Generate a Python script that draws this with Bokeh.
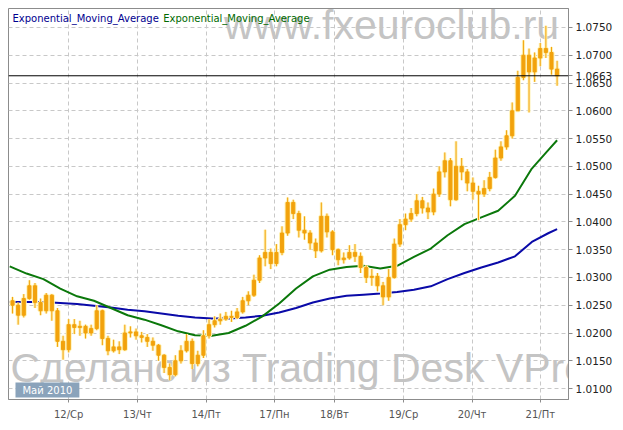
from bokeh.plotting import figure
from bokeh.models import FixedTicker, NumeralTickFormatter, Span, Label
from bokeh.embed import file_html
from bokeh.resources import INLINE

# ---- data (trading hours since 11 May 2010 00:00, EUR price) ----
hours = list(range(4, 200, 2))
open0 = 1.0258
closes = [1.0250, 1.0232, 1.0262, 1.0285, 1.0255, 1.0240, 1.0268, 1.0240, 1.0185, 1.0170,
          1.0215, 1.0210, 1.0212, 1.0200, 1.0208, 1.0240, 1.0190, 1.0168, 1.0175, 1.0170,
          1.0200, 1.0202, 1.0195, 1.0192, 1.0185, 1.0178, 1.0160, 1.0138, 1.0125, 1.0150,
          1.0168, 1.0185, 1.0145, 1.0160, 1.0195, 1.0215, 1.0222, 1.0225, 1.0230, 1.0228,
          1.0238, 1.0258, 1.0268, 1.0295, 1.0335, 1.0345, 1.0325, 1.0345, 1.0380, 1.0435,
          1.0415, 1.0385, 1.0380, 1.0362, 1.0348, 1.0410, 1.0382, 1.0350, 1.0332, 1.0335,
          1.0345, 1.0338, 1.0318, 1.0300, 1.0302, 1.0285, 1.0265, 1.0300, 1.0360, 1.0395,
          1.0405, 1.0415, 1.0438, 1.0425, 1.0418, 1.0450, 1.0490, 1.0510, 1.0440, 1.0500,
          1.0490, 1.0470, 1.0455, 1.0450, 1.0460, 1.0480, 1.0515, 1.0535, 1.0555, 1.0600,
          1.0660, 1.0700, 1.0670, 1.0695, 1.0712, 1.0705, 1.0675, 1.0663]
highs = [1.0265, 1.0255, 1.0270, 1.0295, 1.0290, 1.0262, 1.0272, 1.0270, 1.0245, 1.0195,
         1.0225, 1.0225, 1.0222, 1.0215, 1.0215, 1.0250, 1.0242, 1.0195, 1.0188, 1.0185,
         1.0215, 1.0212, 1.0208, 1.0202, 1.0198, 1.0192, 1.0180, 1.0162, 1.0145, 1.0160,
         1.0178, 1.0198, 1.0190, 1.0168, 1.0205, 1.0225, 1.0230, 1.0235, 1.0238, 1.0240,
         1.0245, 1.0265, 1.0275, 1.0305, 1.0340, 1.0386, 1.0352, 1.0360, 1.0392, 1.0444,
         1.0440, 1.0420, 1.0410, 1.0385, 1.0370, 1.0435, 1.0415, 1.0385, 1.0352, 1.0345,
         1.0358, 1.0360, 1.0345, 1.0322, 1.0315, 1.0308, 1.0292, 1.0315, 1.0370, 1.0405,
         1.0415, 1.0425, 1.0450, 1.0445, 1.0435, 1.0460, 1.0500, 1.0525, 1.0515, 1.0545,
         1.0515, 1.0495, 1.0480, 1.0465, 1.0475, 1.0490, 1.0530, 1.0545, 1.0565, 1.0615,
         1.0672, 1.0727, 1.0712, 1.0705, 1.0722, 1.0753, 1.0715, 1.0690]
lows = [1.0235, 1.0215, 1.0228, 1.0260, 1.0245, 1.0232, 1.0235, 1.0222, 1.0175, 1.0152,
        1.0165, 1.0198, 1.0195, 1.0190, 1.0195, 1.0205, 1.0178, 1.0160, 1.0165, 1.0162,
        1.0168, 1.0192, 1.0188, 1.0183, 1.0175, 1.0168, 1.0150, 1.0128, 1.0115, 1.0122,
        1.0145, 1.0165, 1.0135, 1.0140, 1.0155, 1.0190, 1.0210, 1.0215, 1.0222, 1.0220,
        1.0225, 1.0235, 1.0250, 1.0265, 1.0290, 1.0320, 1.0315, 1.0320, 1.0340, 1.0375,
        1.0405, 1.0372, 1.0368, 1.0350, 1.0335, 1.0345, 1.0372, 1.0340, 1.0322, 1.0325,
        1.0332, 1.0328, 1.0308, 1.0290, 1.0285, 1.0275, 1.0250, 1.0258, 1.0298, 1.0355,
        1.0385, 1.0400, 1.0410, 1.0415, 1.0405, 1.0412, 1.0445, 1.0480, 1.0428, 1.0438,
        1.0475, 1.0455, 1.0440, 1.0403, 1.0445, 1.0455, 1.0478, 1.0510, 1.0530, 1.0550,
        1.0600, 1.0655, 1.0597, 1.0652, 1.0680, 1.0695, 1.0665, 1.0645]

ema_hours = [3, 9, 15, 21, 27, 33, 39, 45, 51, 57, 63, 69, 75, 81, 87, 93, 99, 105, 111, 117,
             123, 129, 135, 141, 147, 153, 159, 165, 171, 177, 183, 189, 195, 198]
ema_green = [1.0320, 1.0307, 1.0297, 1.0280, 1.0266, 1.0258, 1.0245, 1.0232, 1.0224, 1.0214,
             1.0203, 1.0196, 1.0195, 1.0200, 1.0213, 1.0230, 1.0253, 1.0280, 1.0302, 1.0314,
             1.0319, 1.0321, 1.0316, 1.0321, 1.0337, 1.0352, 1.0376, 1.0396, 1.0408, 1.0420,
             1.0447, 1.0496, 1.0530, 1.0547]
ema_blue = [1.0256, 1.0256, 1.0256, 1.0254, 1.0252, 1.0249, 1.0246, 1.0242, 1.0239, 1.0235,
            1.0231, 1.0228, 1.0226, 1.0226, 1.0228, 1.0231, 1.0237, 1.0245, 1.0255, 1.0262,
            1.0267, 1.0269, 1.0271, 1.0274, 1.0278, 1.0284, 1.0297, 1.0308, 1.0318, 1.0327,
            1.0338, 1.0364, 1.0380, 1.0387]

last_price = 1.0663
y_ticks = [1.0100, 1.0150, 1.0200, 1.0250, 1.0300, 1.0350, 1.0400, 1.0450, 1.0500, 1.0550,
           1.0600, 1.0650, 1.0700, 1.0750]
day_ticks = [24, 48.5, 73, 97.3, 118.7, 143.3, 167.7, 192]
day_labels = ["12/Ср", "13/Чт", "14/Пт", "17/Пн", "18/Вт", "19/Ср", "20/Чт", "21/Пт"]
series_names = ["Exponential_Moving_Average", "Exponential_Moving_Average"]

# ---- layout helpers (picture pixels -> data); frame spans x 8..569, y 8..400 ----
X_LO, X_HI = 2.56, 202.06
Y_LO, Y_HI = 1.00803, 1.07841
def xd(px):
    return X_LO + (px - 8) * (X_HI - X_LO) / 561.0
def yd(py):
    return Y_HI - (py - 8) * (Y_HI - Y_LO) / 392.0

ORANGE = "#f2a20c"
HALO = "#fff2b4"
GREEN = "#0b780b"
BLUE = "#0a0aa8"
GRID = "#c8c8c8"
FRAME = "#8c8c8c"

p = figure(width=615, height=422, x_range=(X_LO, X_HI), y_range=(Y_LO, Y_HI),
           output_backend="svg", toolbar_location=None, y_axis_location="right",
           min_border_left=8, min_border_top=8, min_border_right=46, min_border_bottom=22)
p.background_fill_color = "white"
p.border_fill_color = "white"
p.outline_line_color = FRAME
p.outline_line_width = 1

# axes (the last price is shown as an extra tick label on the price axis)
yax = p.yaxis[0]
yax.ticker = FixedTicker(ticks=y_ticks + [last_price])
yax.formatter = NumeralTickFormatter(format="0.0000")
yax.major_label_text_font = "DejaVu Sans"
yax.major_label_text_font_size = "10.5px"
yax.major_label_text_color = "#222222"
yax.major_tick_out = 4
yax.major_tick_in = 0
yax.minor_tick_out = 0
yax.minor_tick_in = 0
yax.major_label_standoff = 3
yax.axis_line_color = FRAME
yax.major_tick_line_color = FRAME

xax = p.xaxis[0]
xax.ticker = FixedTicker(ticks=day_ticks)
xax.major_label_overrides = {t: s for t, s in zip(day_ticks, day_labels)}
xax.major_label_text_font = "DejaVu Sans"
xax.major_label_text_font_size = "10px"
xax.major_label_text_color = "#555555"
xax.major_label_standoff = 6
xax.major_tick_out = 3
xax.major_tick_in = 0
xax.minor_tick_out = 0
xax.minor_tick_in = 0
xax.axis_line_color = FRAME
xax.major_tick_line_color = FRAME

p.ygrid.ticker = FixedTicker(ticks=y_ticks)
p.xgrid.ticker = FixedTicker(ticks=day_ticks)
for g in (p.xgrid[0], p.ygrid[0]):
    g.grid_line_color = GRID
    g.grid_line_dash = "4 3"
    g.grid_line_width = 1

# watermarks
p.add_layout(Label(x=xd(224), y=yd(25), text="www.fxeuroclub.ru", text_font="Liberation Sans",
                   text_font_size="41px", text_color="#c4c4c4", text_baseline="alphabetic",
                   level="underlay"))
p.add_layout(Label(x=xd(10), y=yd(368), text="Сделано из Trading Desk VPro -",
                   text_font="Liberation Sans", text_font_size="41px", text_color="#c4c4c4",
                   text_baseline="alphabetic", level="underlay"))

# EMA lines
p.line(ema_hours, ema_blue, line_color=BLUE, line_width=2)
p.line(ema_hours, ema_green, line_color=GREEN, line_width=2)

# candles
opens = [open0] + closes[:-1]
bottoms = [min(o, c) for o, c in zip(opens, closes)]
tops = [max(o, c) for o, c in zip(opens, closes)]
p.segment(hours, lows, hours, highs, line_color=HALO, line_width=3)
p.vbar(x=hours, bottom=bottoms, top=tops, width=1.1, fill_color=HALO, line_color=HALO, line_width=3)
p.segment(hours, lows, hours, highs, line_color=ORANGE, line_width=1)
p.vbar(x=hours, bottom=bottoms, top=tops, width=1.1, fill_color=ORANGE, line_color=ORANGE, line_width=1)

# last price line
p.add_layout(Span(location=last_price, dimension="width", line_color="black", line_width=1))

# legend texts
p.add_layout(Label(x=xd(12), y=yd(18), text=series_names[0], text_font="DejaVu Sans",
                   text_font_size="10px", text_color="#000090", text_baseline="alphabetic"))
p.add_layout(Label(x=xd(163), y=yd(18), text=series_names[1], text_font="DejaVu Sans",
                   text_font_size="10px", text_color="#006a00", text_baseline="alphabetic"))

# month box, kept just inside the bottom-left corner of the plot area
p.add_layout(Label(x=xd(15), y=yd(398), text="Май 2010", text_font="DejaVu Sans",
                   text_font_size="10px", text_color="white", text_baseline="bottom",
                   background_fill_color="#8aa3bb", padding=(7, 2)))

open("out.html", "w").write(file_html(p, INLINE))
